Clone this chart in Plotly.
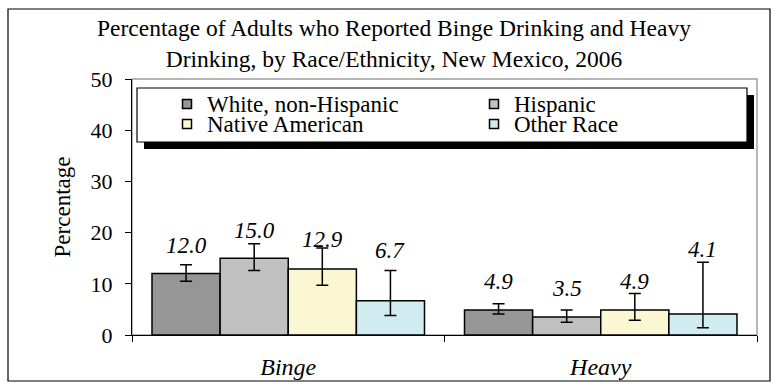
import plotly.graph_objects as go

# ---- data ----
categories = ["Binge", "Heavy"]
series_names = ["White, non-Hispanic", "Hispanic", "Native American", "Other Race"]
values = {
    "White, non-Hispanic": [12.0, 4.9],
    "Hispanic": [15.0, 3.5],
    "Native American": [12.9, 4.9],
    "Other Race": [6.7, 4.1],
}
ci_low = {
    "White, non-Hispanic": [10.5, 4.1],
    "Hispanic": [12.6, 2.5],
    "Native American": [9.7, 2.9],
    "Other Race": [3.8, 1.4],
}
ci_high = {
    "White, non-Hispanic": [13.7, 6.1],
    "Hispanic": [17.8, 4.9],
    "Native American": [17.0, 8.1],
    "Other Race": [12.6, 14.2],
}
y_ticks = [0, 10, 20, 30, 40, 50]
title_text = ("Percentage of Adults who Reported Binge Drinking and Heavy<br>"
              "Drinking, by Race/Ethnicity, New Mexico, 2006")

# ---- style ----
colors = ["#969696", "#C0C0C0", "#FBF7D2", "#D0ECF0"]
label_shift = [[28, 28], [28, 29], [29, 28], [50, 65]]  # px above bar top
FONT = "Liberation Serif, Times New Roman, serif"
W, H = 776, 386
ML, MR, MT, MB = 132, 19, 79, 51
PW, PH = W - ML - MR, H - MT - MB
BARGAP = 0.128
BAR_PX = PW / len(categories) * (1 - BARGAP) / len(series_names)
LEG_COL_X = [187, 494]   # centre of legend squares (px)
LEG_ROW_Y = [104, 124]   # centre of legend rows (px)
LEG_SQ = 4.5             # half size of legend square (px)


def px_x(p):
    return (p - ML) / PW


def px_y(p):
    return (H - MB - p) / PH


fig = go.Figure()
for j, name in enumerate(series_names):
    v = values[name]
    fig.add_trace(go.Bar(
        x=categories, y=v, name=name,
        marker=dict(color=colors[j], line=dict(color="black", width=1.5)),
        error_y=dict(type="data", symmetric=False,
                     array=[h - a for h, a in zip(ci_high[name], v)],
                     arrayminus=[a - l for a, l in zip(v, ci_low[name])],
                     color="black", thickness=1.5, width=6),
    ))
    for i, cat in enumerate(categories):
        fig.add_annotation(
            x=cat, y=v[i], xref="x", yref="y",
            text=f"{v[i]:.1f}", showarrow=False,
            xshift=(j - (len(series_names) - 1) / 2) * BAR_PX,
            yshift=label_shift[j][i], yanchor="middle",
            font=dict(family=FONT, size=23, color="black", style="italic"),
        )

shapes = [
    # plot area border (grey)
    dict(type="rect", xref="paper", yref="paper", x0=0, y0=0, x1=1, y1=1,
         line=dict(color="#A0A0A0", width=1.5), layer="below"),
    # outer chart border
    dict(type="rect", xref="paper", yref="paper",
         x0=px_x(8), x1=px_x(770), y0=px_y(381), y1=px_y(9),
         line=dict(color="black", width=1.2), layer="below"),
    # legend shadow
    dict(type="rect", xref="paper", yref="paper",
         x0=px_x(144), x1=px_x(754), y0=px_y(149), y1=px_y(95),
         fillcolor="black", line=dict(width=0), layer="above"),
    # legend box
    dict(type="rect", xref="paper", yref="paper",
         x0=px_x(137), x1=px_x(747), y0=px_y(142), y1=px_y(88),
         fillcolor="white", line=dict(color="black", width=1.2), layer="above"),
]

# legend entries (2 columns x 2 rows)
for j, name in enumerate(series_names):
    cx = LEG_COL_X[j % 2]
    cy = LEG_ROW_Y[j // 2]
    shapes.append(dict(type="rect", xref="paper", yref="paper",
                       x0=px_x(cx - LEG_SQ), x1=px_x(cx + LEG_SQ),
                       y0=px_y(cy + LEG_SQ), y1=px_y(cy - LEG_SQ),
                       fillcolor=colors[j], line=dict(color="black", width=1.5),
                       layer="above"))
    fig.add_annotation(x=px_x(cx + 18), y=px_y(cy), xref="paper", yref="paper",
                       text=name, showarrow=False, xanchor="left", yanchor="middle",
                       font=dict(family=FONT, size=23, color="black"))

fig.update_layout(
    width=W, height=H,
    margin=dict(l=ML, r=MR, t=MT, b=MB, autoexpand=False),
    paper_bgcolor="white", plot_bgcolor="white",
    barmode="group", bargap=BARGAP, bargroupgap=0,
    font=dict(family=FONT, size=22, color="black"),
    title=dict(text=title_text, x=394 / W, xanchor="center",
               y=1 - 36 / H, yanchor="top", yref="container",
               font=dict(family=FONT, size=23.5, color="black")),
    shapes=shapes,
    showlegend=False,
    xaxis=dict(showline=True, linecolor="black", linewidth=1.2,
               ticks="outside", ticklen=6, tickcolor="black",
               tickson="boundaries", ticklabelstandoff=10,
               showgrid=False,
               tickfont=dict(family=FONT, size=24, style="italic")),
    yaxis=dict(range=[0, 50], tickvals=y_ticks, showline=True,
               linecolor="black", linewidth=1.2, ticks="outside",
               ticklen=6, tickcolor="black", showgrid=False, zeroline=False,
               ticklabelstandoff=8,
               tickfont=dict(family=FONT, size=22),
               title=dict(text="Percentage", standoff=13,
                          font=dict(family=FONT, size=23))),
)

fig.write_html("out.html", post_script="document.body.style.margin='0';",
               config={"displayModeBar": False})
